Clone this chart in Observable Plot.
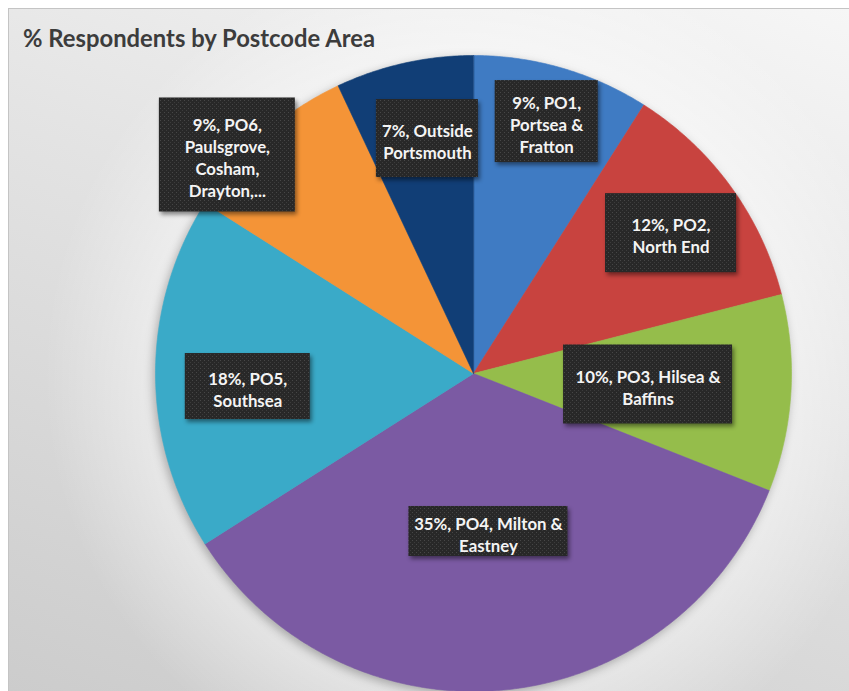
<!DOCTYPE html>
<html>
<head>
<meta charset="utf-8">
<script src="https://cdn.jsdelivr.net/npm/d3@7"></script>
<script src="https://cdn.jsdelivr.net/npm/@observablehq/plot@0.6"></script>
<style>
  html, body { margin: 0; padding: 0; background: #ffffff; }
  #root { position: relative; width: 849px; height: 691px; overflow: hidden; background: #ffffff; }
  #panel {
    position: absolute; left: 8px; top: 8px; width: 841px; height: 683px;
    border-left: 1px solid #c4c4c4; border-top: 1px solid #c4c4c4;
    background:
      radial-gradient(circle at 465px 365px, rgba(255,255,255,0.5) 300px, rgba(255,255,255,0) 430px),
      linear-gradient(200deg, #f6f6f6 0%, #e4e4e4 40%, #cccccc 100%);
  }
  #title {
    position: absolute; left: 23px; top: 27px; margin: 0;
    font-family: Lato, "Open Sans", sans-serif; font-weight: bold; font-size: 23.8px; line-height: 23.8px;
    color: #3c3c3c; white-space: nowrap;
  }
  #chart { position: absolute; left: 0; top: 0; }
  #chart g[aria-label="geo"] { filter: drop-shadow(-2px 3px 5px rgba(0,0,0,0.28)); }
  #chart .labelbox { filter: drop-shadow(2px 3px 2px rgba(0,0,0,0.45)); }
</style>
</head>
<body>
<div id="root">
  <div id="panel"></div>
  <div id="chart"></div>
  <div id="title">% Respondents by Postcode Area</div>
</div>
<script>
// ---- data ----
const categories = [
  "PO1, Portsea & Fratton",
  "PO2, North End",
  "PO3, Hilsea & Baffins",
  "PO4, Milton & Eastney",
  "PO5, Southsea",
  "PO6, Paulsgrove, Cosham, Drayton,...",
  "Outside Portsmouth"
];
const percents = [9, 12, 10, 35, 18, 9, 7];
const labelTexts = [
  "9%, PO1,\nPortsea &\nFratton",
  "12%, PO2,\nNorth End",
  "10%, PO3, Hilsea &\nBaffins",
  "35%, PO4, Milton &\nEastney",
  "18%, PO5,\nSouthsea",
  "9%, PO6,\nPaulsgrove,\nCosham,\nDrayton,...",
  "7%, Outside\nPortsmouth"
];
const sliceColors = ["#3f7bc3", "#c8433f", "#95bd4b", "#7b5aa3", "#3aaac8", "#f49437", "#113e76"];

// ---- label placement (style) ----
const labelRadius = [0.825, 0.762, 0.55, 0.499, 0.711, 1.035, 0.753];
const labelAngleShift = [0, 0.6, 0, 0, -3.3, -7, 1.5];
const boxW = [103, 131, 169, 159, 125, 136, 102];
const boxH = [82, 79, 79, 50, 66, 114, 78];

// ---- layout ----
const W = 849, H = 691, CX = 473, CY = 373, R = 318;
const x0 = -CX / R, x1 = (W - CX) / R, y0 = -CY / R, y1 = (H - CY) / R;
const frame = {type: "Polygon", coordinates: [[[x0, y0], [x1, y0], [x1, y1], [x0, y1], [x0, y0]]]};

const arcs = d3.pie().sort(null).value(d => d)(percents);
const slices = arcs.map((a, i) => {
  const ring = [[0, 0]];
  const n = Math.max(2, Math.ceil((a.endAngle - a.startAngle) / (Math.PI / 360)));
  for (let k = 0; k <= n; k++) {
    const t = a.startAngle + (a.endAngle - a.startAngle) * k / n;
    ring.push([Math.sin(t), -Math.cos(t)]);
  }
  ring.push([0, 0]);
  const mid = (a.startAngle + a.endAngle) / 2 + labelAngleShift[i] * Math.PI / 180;
  return {
    name: categories[i],
    value: percents[i],
    label: labelTexts[i],
    geometry: {type: "Polygon", coordinates: [ring]},
    lx: labelRadius[i] * Math.sin(mid),
    ly: -labelRadius[i] * Math.cos(mid),
    i
  };
});

const plot = Plot.plot({
  width: W,
  height: H,
  margin: 0,
  style: {background: "transparent", overflow: "visible"},
  projection: {type: "identity", domain: frame, inset: 0},
  color: {domain: categories, range: sliceColors},
  marks: [
    Plot.geo(slices, {geometry: d => d.geometry, fill: "name", stroke: "name", strokeWidth: 0.6}),
    Plot.text(slices, {
      x: "lx", y: "ly", text: "label",
      fill: "#f4f4f4", fontSize: 16.8, fontWeight: "bold", fontFamily: "Lato, 'Open Sans', sans-serif",
      lineHeight: 1.31, dy: 2,
      render(index, scales, values, dimensions, context, next) {
        const g = next(index, scales, values, dimensions, context);
        const wrap = d3.create("svg:g");
        const defs = wrap.append("defs");
        const pat = defs.append("pattern").attr("id", "dots").attr("width", 4).attr("height", 4)
          .attr("patternUnits", "userSpaceOnUse");
        pat.append("rect").attr("width", 4).attr("height", 4).attr("fill", "#282828");
        pat.append("rect").attr("x", 0).attr("y", 0).attr("width", 1).attr("height", 1).attr("fill", "#474747");
        pat.append("rect").attr("x", 2).attr("y", 2).attr("width", 1).attr("height", 1).attr("fill", "#3c3c3c");
        const boxes = wrap.append("g").attr("class", "labelbox");
        for (const i of index) {
          const d = slices[i];
          const px = values.x[i], py = values.y[i];
          boxes.append("rect")
            .attr("x", px - boxW[d.i] / 2).attr("y", py - boxH[d.i] / 2)
            .attr("width", boxW[d.i]).attr("height", boxH[d.i])
            .attr("fill", "url(#dots)");
        }
        wrap.node().appendChild(g);
        return wrap.node();
      }
    })
  ]
});
document.getElementById("chart").appendChild(plot);
</script>
</body>
</html>
